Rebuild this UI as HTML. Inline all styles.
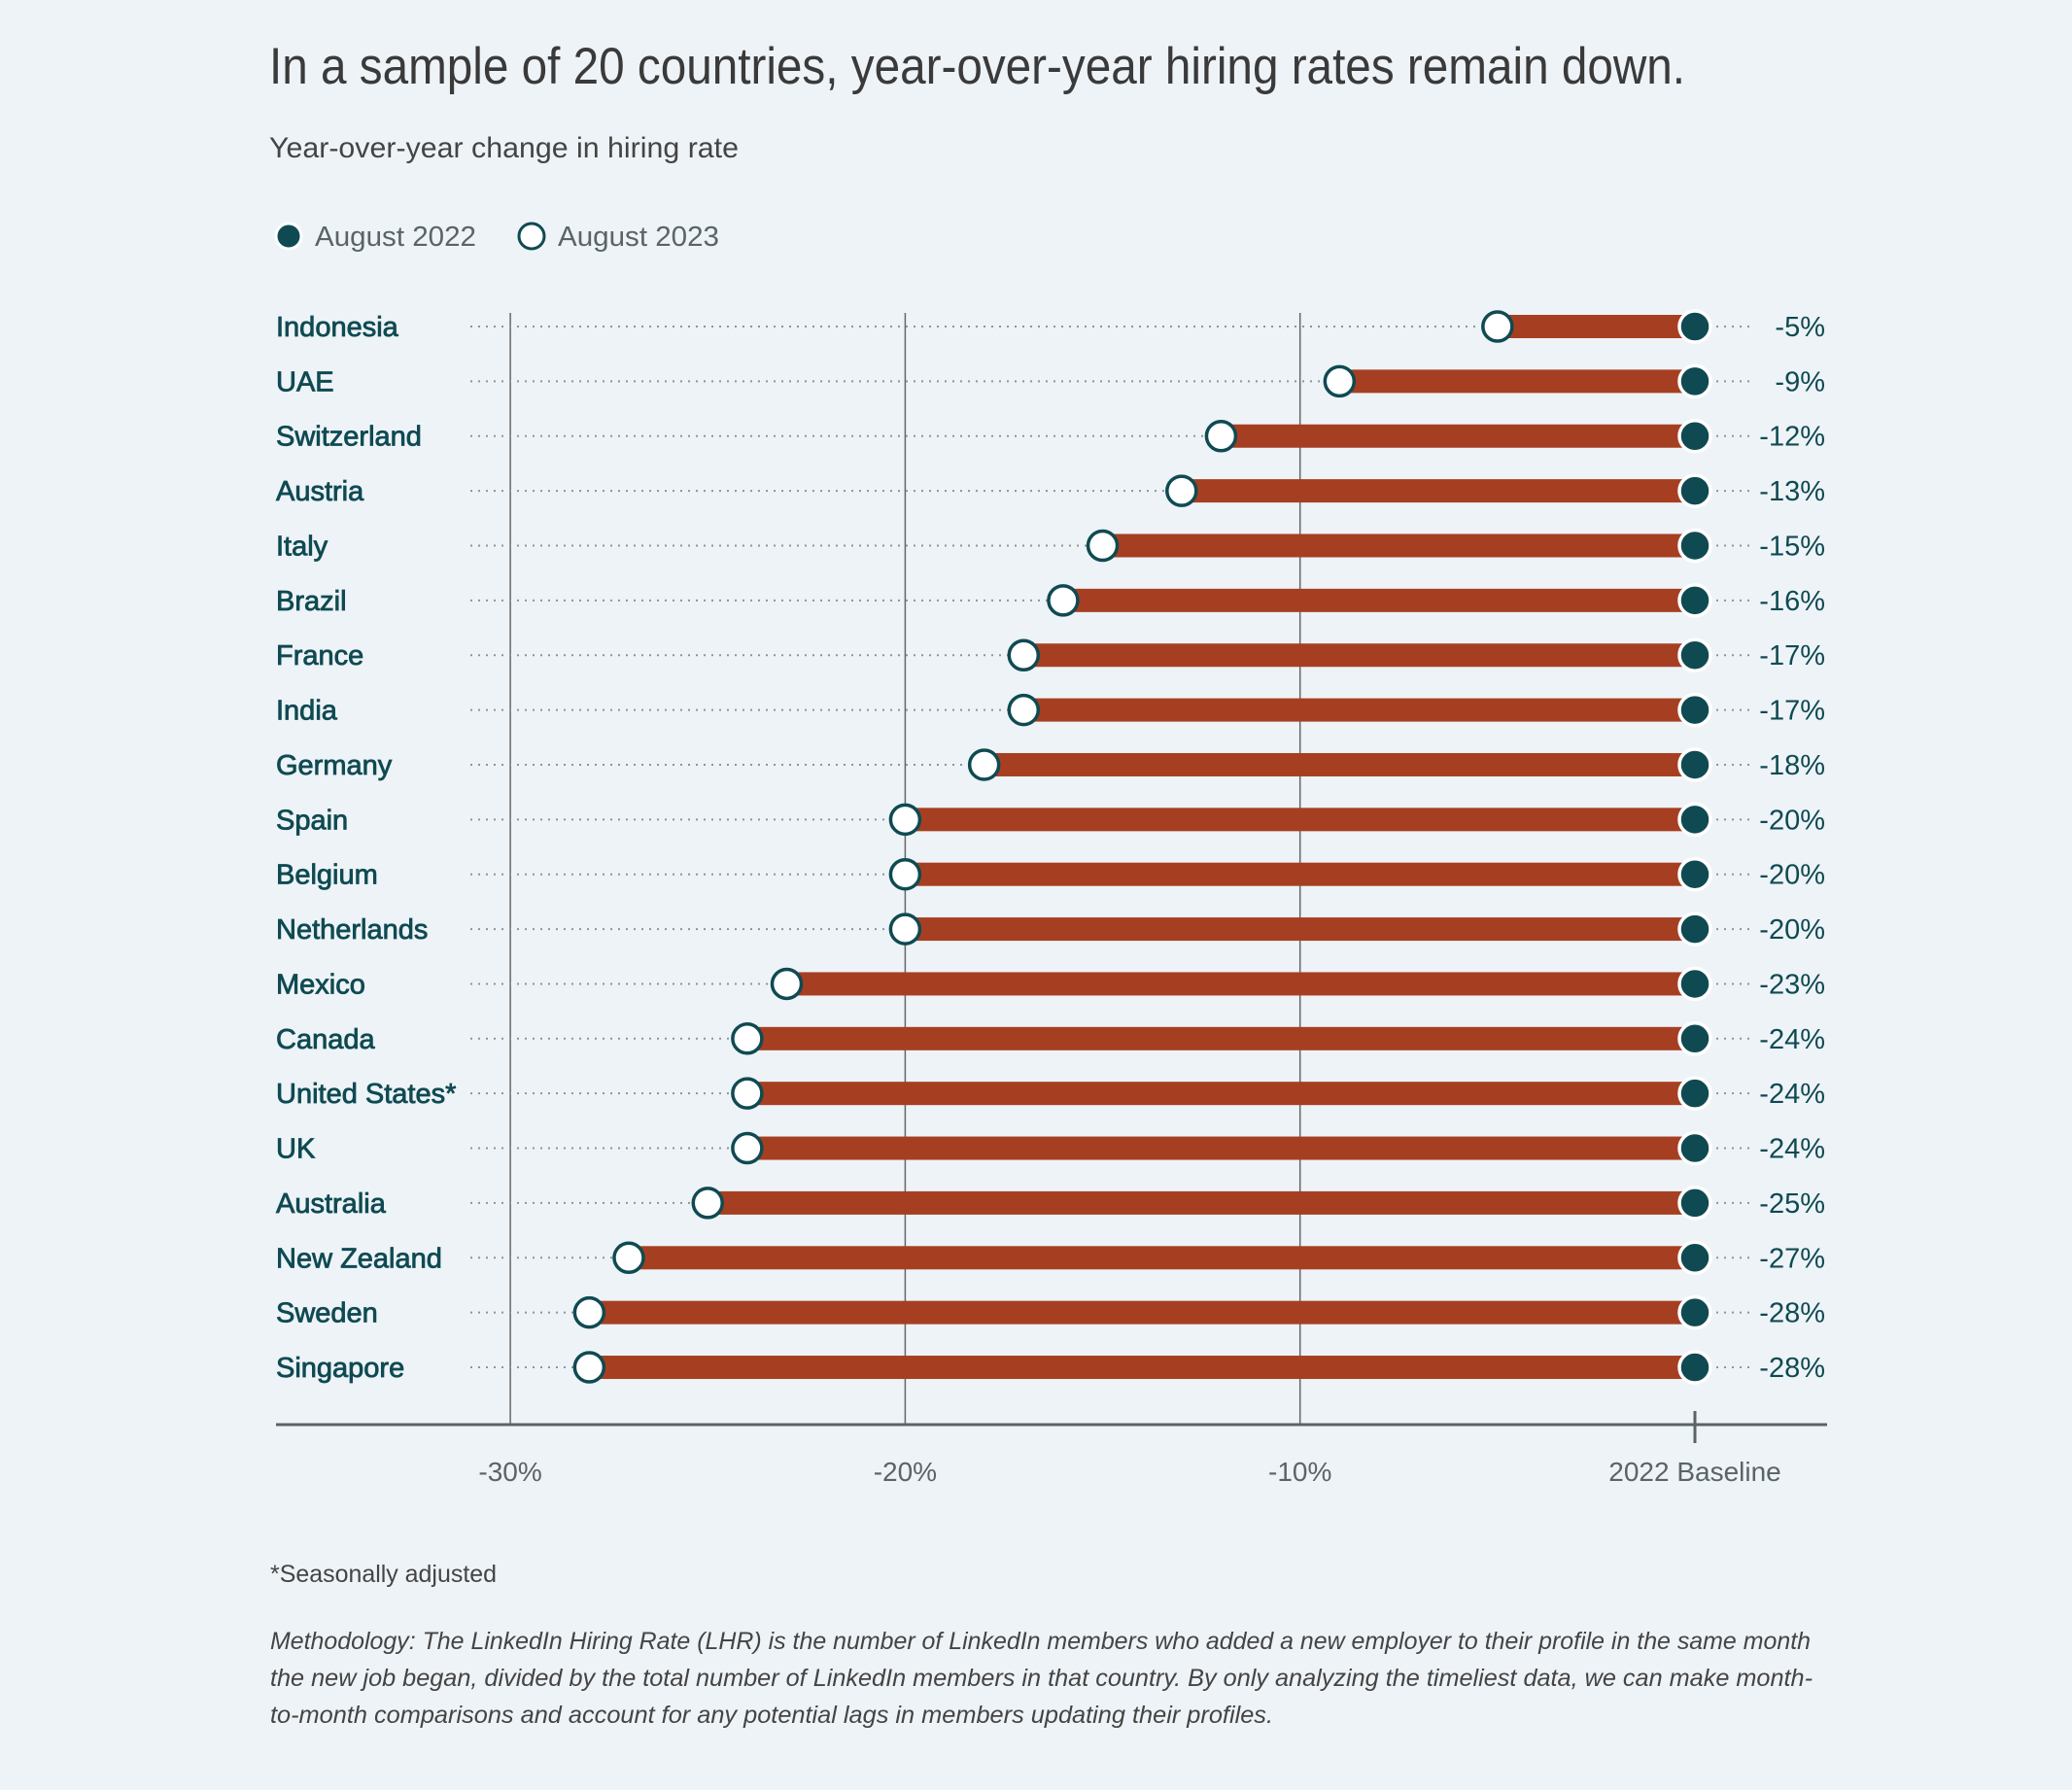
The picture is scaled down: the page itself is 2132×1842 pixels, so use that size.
<!DOCTYPE html>
<html><head><meta charset="utf-8"><style>
html,body{margin:0;padding:0;background:#eef3f7;}
svg{display:block;font-family:"Liberation Sans",sans-serif;}
</style></head><body>
<svg id="chart" width="2132" height="1842" viewBox="0 0 2132 1842" xmlns="http://www.w3.org/2000/svg">
<rect width="2132" height="1842" fill="#eef3f7"/>
<text x="277" y="86" font-size="53" fill="#3a3a3a" textLength="1457" lengthAdjust="spacingAndGlyphs">In a sample of 20 countries, year-over-year hiring rates remain down.</text>
<text x="277" y="162" font-size="30" fill="#444" textLength="483" lengthAdjust="spacingAndGlyphs">Year-over-year change in hiring rate</text>
<g>
<circle cx="297" cy="243" r="13" fill="#0f4a52" stroke="#fff" stroke-width="3"/>
<text x="324" y="253" font-size="29" fill="#5a6466" textLength="166" lengthAdjust="spacingAndGlyphs">August 2022</text>
<circle cx="547" cy="243" r="13" fill="#fff" stroke="#0f4a52" stroke-width="3"/>
<text x="574" y="253" font-size="29" fill="#5a6466" textLength="166" lengthAdjust="spacingAndGlyphs">August 2023</text>
</g>
<g id="plot"></g>
<text x="278" y="1628" font-size="25" fill="#444" textLength="233" lengthAdjust="spacingAndGlyphs">*Seasonally adjusted</text>
<g font-size="25" font-style="italic" fill="#444">
<text x="278" y="1697" textLength="1585" lengthAdjust="spacingAndGlyphs">Methodology: The LinkedIn Hiring Rate (LHR) is the number of LinkedIn members who added a new employer to their profile in the same month</text>
<text x="278" y="1735" textLength="1587" lengthAdjust="spacingAndGlyphs">the new job began, divided by the total number of LinkedIn members in that country.  By only analyzing the timeliest data, we can make month-</text>
<text x="278" y="1773" textLength="1032" lengthAdjust="spacingAndGlyphs">to-month comparisons and account for any potential lags in members updating their profiles.</text>
</g>
</svg>
<script>
const countries = ["Indonesia","UAE","Switzerland","Austria","Italy","Brazil","France","India","Germany","Spain","Belgium","Netherlands","Mexico","Canada","United States*","UK","Australia","New Zealand","Sweden","Singapore"];
const values2023 = [-5,-9,-12,-13,-15,-16,-17,-17,-18,-20,-20,-20,-23,-24,-24,-24,-25,-27,-28,-28];
const values2022 = [0,0,0,0,0,0,0,0,0,0,0,0,0,0,0,0,0,0,0,0];
const tickValues = [-30,-20,-10,0];
const tickLabels = ["-30%","-20%","-10%","2022 Baseline"];

const NS="http://www.w3.org/2000/svg";
const g=document.getElementById('plot');
const x=v=>1744+v*40.63;
const y=i=>336+i*56.37;
function mk(tag,attrs){const e=document.createElementNS(NS,tag);for(const k in attrs)e.setAttribute(k,attrs[k]);g.appendChild(e);return e;}

tickValues.forEach((t,i)=>{
  if(t!==0){
    const l=mk('line',{x1:x(t),x2:x(t),y1:322,y2:1466,stroke:'#666','stroke-width':1.5});
    
    
  }
});
const ax=mk('line',{x1:284,x2:1880,y1:1466,y2:1466,stroke:'#5a6466','stroke-width':3});


const tk=mk('line',{x1:x(0),x2:x(0),y1:1452,y2:1485,stroke:'#5a6466','stroke-width':3});


tickValues.forEach((t,i)=>{
  const tx=mk('text',{x:x(t),y:1524,'font-size':28,fill:'#5a6466','text-anchor':'middle'});
  tx.textContent=tickLabels[i];
  
  
});

countries.forEach((c,i)=>{
  const cy=y(i);
  const lb=mk('text',{x:284,y:cy+10,'font-size':29,fill:'#0f4a52',stroke:'#0f4a52','stroke-width':0.8});
  lb.textContent=c;
  
  
  const d1=mk('line',{x1:484,x2:x(values2023[i]),y1:cy,y2:cy,stroke:'#8a9699','stroke-width':2,'stroke-dasharray':'2 6'});
  
  
  const d2=mk('line',{x1:x(values2022[i])+22,x2:1800,y1:cy,y2:cy,stroke:'#8a9699','stroke-width':2,'stroke-dasharray':'2 6'});
  
  
  const bar=mk('rect',{x:x(values2023[i]),y:cy-12,width:x(values2022[i])-x(values2023[i]),height:24,fill:'#a63f22'});
  
  
  const p1=mk('circle',{cx:x(values2023[i]),cy:cy,r:15,fill:'#fff',stroke:'#0f4a52','stroke-width':3.5});
  
  
  const p2=mk('circle',{cx:x(values2022[i]),cy:cy,r:16,fill:'#0f4a52',stroke:'#fff','stroke-width':3.5});
  
  
  const vl=mk('text',{x:1878,y:cy+10,'font-size':29,fill:'#0f4a52','text-anchor':'end'});
  vl.textContent=values2023[i]+'%';
  
  
});
</script>
</body></html>
